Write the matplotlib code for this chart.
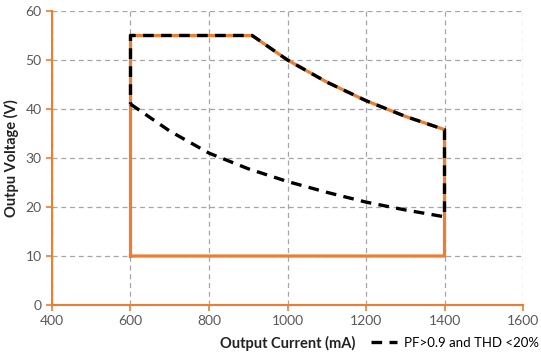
import matplotlib.pyplot as plt
import numpy as np

# Operating window (mA, V)
window_current = [600, 600, 910, 1000, 1100, 1200, 1300, 1400, 1400, 600]
window_voltage = [10, 55, 55, 50, 45.5, 41.7, 38.5, 35.8, 10, 10]

# PF>0.9 and THD<20% region
pf_current = [600, 700, 800, 900, 1000, 1100, 1200, 1300, 1400,
              1400, 1300, 1200, 1100, 1000, 910, 600, 600]
pf_voltage = [41, 35.5, 31, 27.8, 25.2, 23, 21, 19.4, 18,
              35.8, 38.5, 41.7, 45.5, 50, 55, 55, 41]

x_ticks = [400, 600, 800, 1000, 1200, 1400, 1600]
y_ticks = [0, 10, 20, 30, 40, 50, 60]

orange = '#ED7D31'
tick_col = '#595959'

plt.rcParams['font.family'] = ['Lato', 'DejaVu Sans']

fig = plt.figure(figsize=(5.41, 3.58), dpi=100)
ax = fig.add_axes([52 / 541, 53 / 358, 471 / 541, 294 / 358])

ax.plot(window_current, window_voltage, color=orange, lw=2.3, solid_joinstyle='miter', zorder=3)
ax.plot(pf_current, pf_voltage, color='black', lw=2.4, ls=(0, (3.2, 2.2)),
        label='PF>0.9 and THD <20%', zorder=4)

ax.set_xlim(400, 1600)
ax.set_ylim(0, 60)
ax.set_xticks(x_ticks)
ax.set_yticks(y_ticks)
ax.grid(True, color='#a6a6a6', ls=(0, (4, 3)), lw=0.9)
ax.set_axisbelow(True)

for s in ['top', 'right']:
    ax.spines[s].set_visible(False)
for s in ['left', 'bottom']:
    ax.spines[s].set_color(orange)
    ax.spines[s].set_linewidth(1.5)
ax.tick_params(colors=orange, labelcolor=tick_col, labelsize=10, length=4, width=1.2,
               direction='out')

ax.set_xlabel('Output Current (mA)', fontsize=10.5, fontweight='bold', color='#222222', labelpad=6)
ax.set_ylabel('Outpu Voltage (V)', fontsize=10.5, fontweight='bold', color='#222222', labelpad=5)

ax.legend(loc='center right', bbox_to_anchor=(539 / 541, 15 / 358), bbox_transform=fig.transFigure,
          frameon=False, fontsize=9.5, handlelength=2.0, handletextpad=0.5,
          borderaxespad=0, borderpad=0)

fig.savefig('out.png', dpi=100)
